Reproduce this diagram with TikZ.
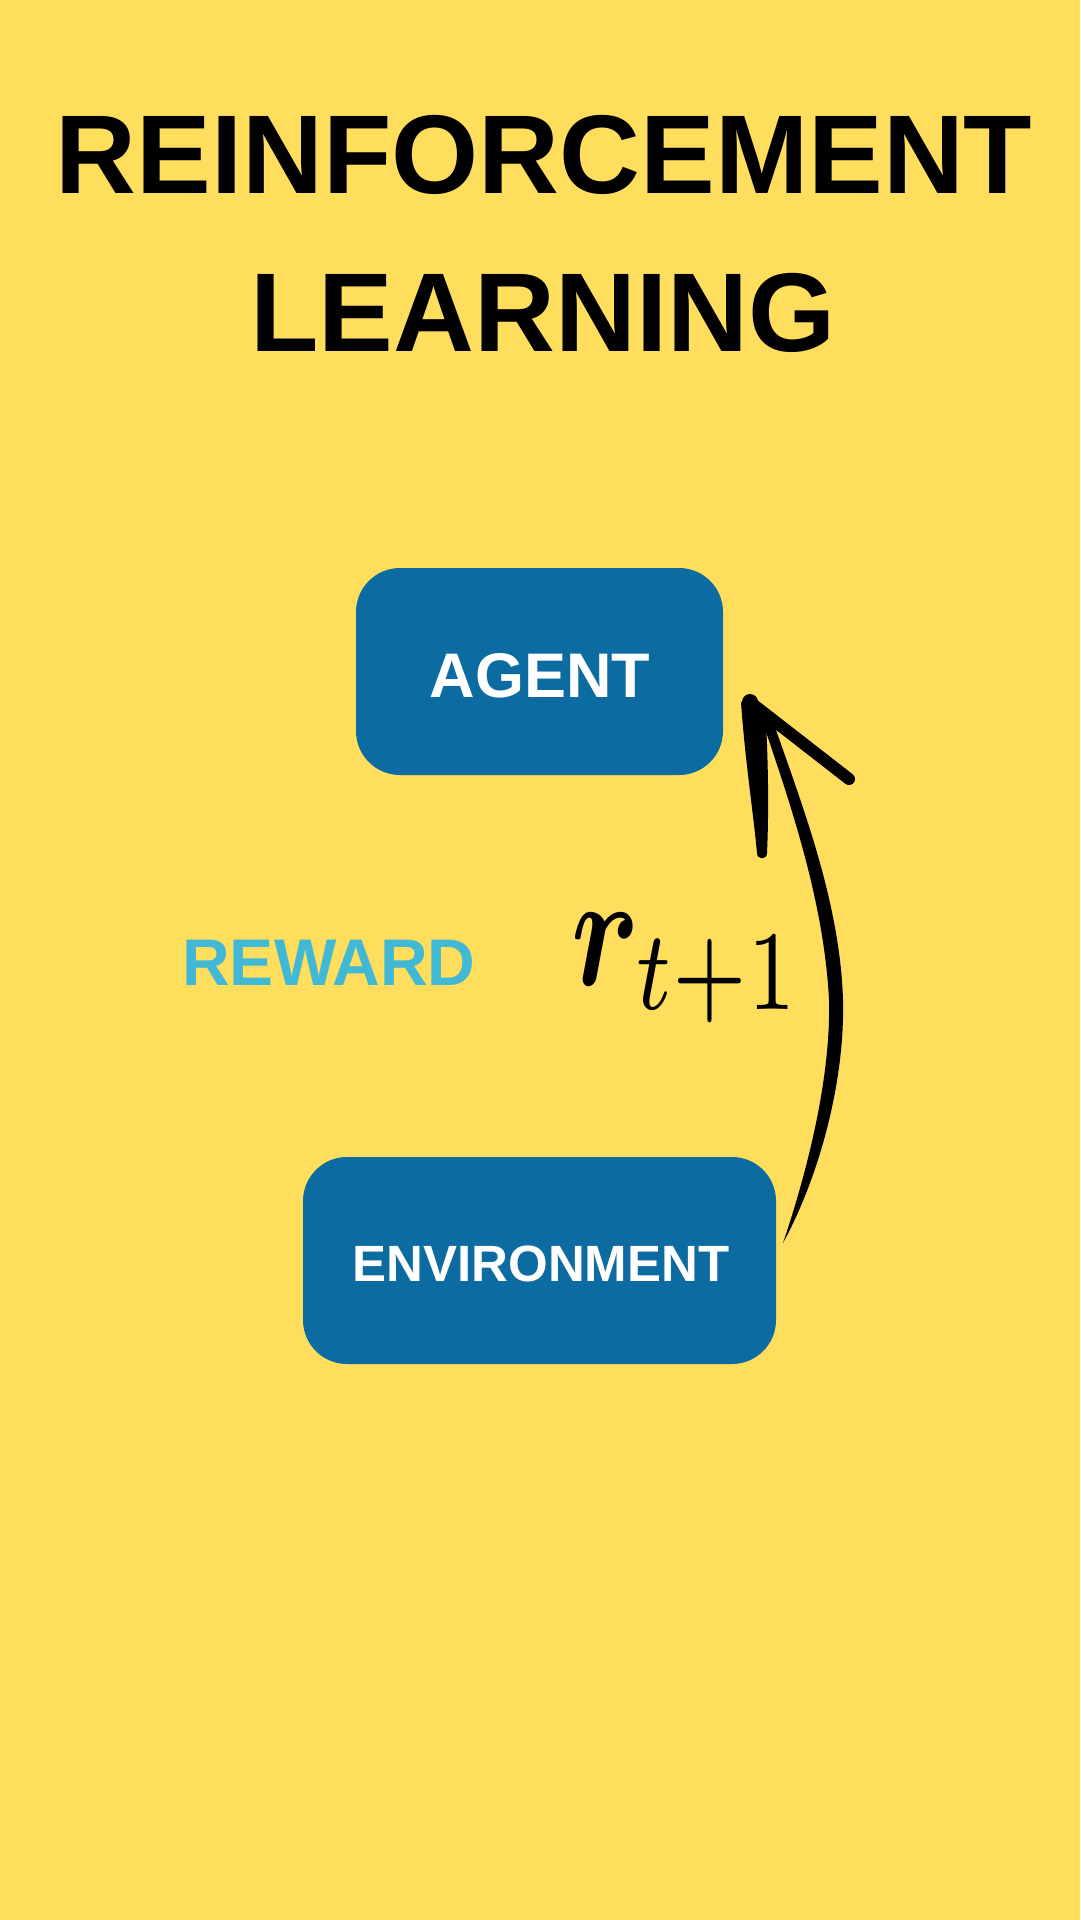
\documentclass[tikz,border=0pt]{standalone}
\usepackage{bm}
\usepackage{fontspec}
\setmainfont{Liberation Sans}
\usepackage{graphicx}
\definecolor{bgyellow}{RGB}{254,222,92}
\definecolor{boxblue}{RGB}{12,107,160}
\definecolor{rewardblue}{RGB}{65,184,213}
\begin{document}
\begin{tikzpicture}[x=1pt,y=-1pt,
  titletext/.style={font=\bfseries\fontsize{112}{130}\selectfont, text=black, inner sep=0pt, anchor=base},
  boxlabel/.style={text=white, inner sep=0pt, anchor=base},
  brush/.style={fill=black, draw=none}]
\useasboundingbox (0,0) rectangle (1080,1920);
\fill[bgyellow] (0,0) rectangle (1080,1920);

% title
\node[titletext] (t1) at (544,193) {REINFORCEMENT};
\node[titletext] (t2) at (543,351) {LEARNING};

% boxes
\fill[boxblue, rounded corners=44pt] (356,568) rectangle (723,775);
\node[inner sep=0pt, minimum width=367pt, minimum height=207pt] (agent) at (539.5,671.5) {};
\node[boxlabel, font=\bfseries\fontsize{63}{70}\selectfont] (agentlbl) at (540,697) {AGENT};

\fill[boxblue, rounded corners=44pt] (303,1157) rectangle (776,1364);
\node[inner sep=0pt, minimum width=473pt, minimum height=207pt] (env) at (539.5,1260.5) {};
\node[boxlabel, font=\bfseries\fontsize{51}{60}\selectfont] (envlbl) at (541,1281) {ENVIRONMENT};

% reward label
\node[inner sep=0pt, anchor=base, text=rewardblue, font=\bfseries\fontsize{66}{72}\selectfont] (reward) at (329,985) {REWARD};

% r_{t+1}
\node[inner sep=0pt, anchor=base west] (rt) at (571,985) {\scalebox{12.2}[16.2]{$\bm{r}_{t+1}$}};

% brush arrow from environment to agent
\coordinate (tail) at (783,1243);
\coordinate (tip) at (750,702);
\fill[brush] (tail) .. controls (820,1175) and (845,1080) .. (843,1000)
  .. controls (840,900) and (800,800) .. (774,724)
  -- (762,720)
  .. controls (789,800) and (824,900) .. (829,1000)
  .. controls (831,1080) and (806,1175) .. (tail) -- cycle;
% left barb
\fill[brush] (741,702) .. controls (745,760) and (753,810) .. (757,853)
  .. controls (757,860) and (767,860) .. (767,853)
  .. controls (769,810) and (768,760) .. (766,722) -- (756,699) -- cycle;
% tip blob
\fill[brush] (tip) circle[radius=8pt];
% right barb
\draw[line width=12pt, line cap=round] (tip) -- (849,779);
\end{tikzpicture}
\end{document}
